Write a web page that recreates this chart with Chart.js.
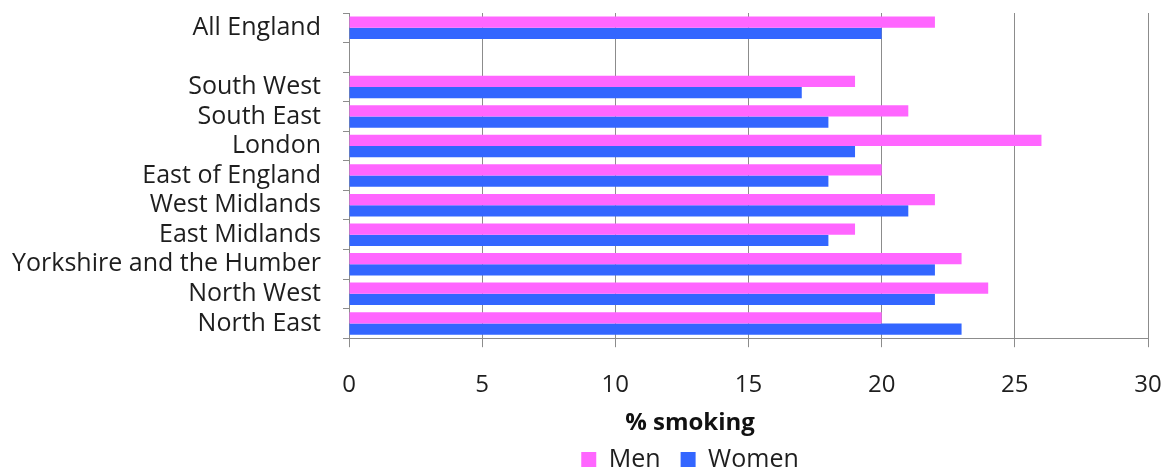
<!DOCTYPE html>
<html>
<head>
<meta charset="utf-8">
<script src="https://cdn.jsdelivr.net/npm/chart.js@4/dist/chart.umd.min.js"></script>
<style>
  html, body { margin: 0; padding: 0; background: #fff; }
  #wrap { width: 1164px; height: 471px; }
</style>
</head>
<body>
<div id="wrap"><canvas id="c" width="1164" height="471"></canvas></div>
<script>
// Regions, top to bottom; the empty entry leaves a gap under "All England"
const regions = [
  'All England', '', 'South West', 'South East', 'London', 'East of England',
  'West Midlands', 'East Midlands', 'Yorkshire and the Humber', 'North West', 'North East'
];
// Percentage of adults who smoke
const men   = [22, null, 19, 21, 26, 20, 22, 19, 23, 24, 20];
const women = [20, null, 17, 18, 19, 18, 21, 18, 22, 22, 23];
const xTicks = [0, 5, 10, 15, 20, 25, 30];

const FONT = "'Open Sans', 'Liberation Sans', sans-serif";
const GRID = '#8c8c8c';
const TEXT = '#1e1e1e';
const PLOT_LEFT = 349;

// The axis title and legend are centred on a band that starts at x = 232
const footerBand = {
  id: 'footerBand',
  afterLayout(chart) {
    [chart.titleBlock, chart.legend].forEach((box) => {
      if (!box) return;
      box.left = 232;
      box.right = 1148;
      box.width = box.right - box.left;
    });
  }
};

new Chart(document.getElementById('c'), {
  type: 'bar',
  data: {
    labels: regions,
    datasets: [
      { label: 'Men', data: men, backgroundColor: '#ff66ff', barPercentage: 1, categoryPercentage: 0.76 },
      { label: 'Women', data: women, backgroundColor: '#3366ff', barPercentage: 1, categoryPercentage: 0.76 }
    ]
  },
  plugins: [footerBand],
  options: {
    indexAxis: 'y',
    responsive: false,
    animation: false,
    layout: { padding: { top: 13, right: 16, left: 0, bottom: -11 } },
    plugins: {
      title: {
        display: true,
        text: '% smoking',
        position: 'bottom',
        weight: 500,
        font: { family: FONT, size: 24, weight: 'bold' },
        color: '#111',
        padding: { top: 0, bottom: -11 }
      },
      legend: {
        position: 'bottom',
        labels: {
          font: { family: FONT, size: 25 },
          color: TEXT,
          boxWidth: 15,
          boxHeight: 15,
          padding: 20
        }
      },
      tooltip: { enabled: false }
    },
    scales: {
      x: {
        min: 0,
        max: 30,
        afterBuildTicks: (s) => { s.ticks = xTicks.map(v => ({ value: v })); },
        afterFit: (s) => { s.paddingLeft = 0; s.paddingRight = 0; s.height = 71; },
        grid: { color: GRID, lineWidth: 1, tickLength: 9 },
        border: { color: GRID },
        ticks: { font: { family: FONT, size: 24 }, color: TEXT, padding: 24 }
      },
      y: {
        afterFit: (s) => { s.width = PLOT_LEFT; s.paddingTop = 0; s.paddingBottom = 0; },
        grid: { display: true, drawOnChartArea: false, color: GRID, tickLength: 6, offset: true },
        border: { color: GRID },
        ticks: { font: { family: FONT, size: 25 }, color: TEXT, padding: 22, autoSkip: false }
      }
    }
  }
});
</script>
</body>
</html>
